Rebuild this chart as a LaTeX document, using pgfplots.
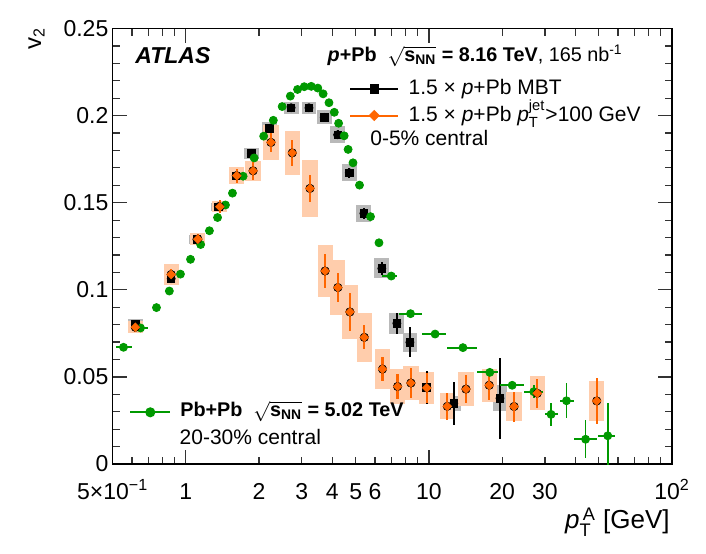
\documentclass[border=0pt]{standalone}
\usepackage{fontspec}
\setmainfont{Liberation Sans}
\usepackage{amsmath}
\usepackage{pgfplots}
\usepackage{pgfplotstable}
\pgfplotsset{compat=1.18}
\definecolor{rootorange}{RGB}{255,102,0}
\definecolor{rootgreen}{RGB}{0,153,0}
\definecolor{boxgray}{RGB}{185,185,185}
\definecolor{boxorange}{RGB}{255,205,172}

\pgfplotstableread{
x y sy sys
0.62 0.0801 0.0010 0.0030
0.87 0.1064 0.0010 0.0035
1.11 0.1290 0.0010 0.0026
1.36 0.1477 0.0010 0.0023
1.61 0.1655 0.0010 0.0028
1.86 0.1783 0.0010 0.0031
2.21 0.1927 0.0010 0.0034
2.71 0.2045 0.0012 0.0034
3.21 0.2045 0.0015 0.0034
3.71 0.1990 0.0020 0.0040
4.21 0.1890 0.0025 0.0048
4.70 0.1672 0.0030 0.0048
5.40 0.1439 0.0030 0.0048
6.40 0.1123 0.0038 0.0057
7.38 0.0808 0.0060 0.0060
8.35 0.0699 0.0086 0.0055
9.78 0.0440 0.0096 0.0023
12.65 0.0348 0.0125 0.0043
19.6 0.0377 0.0233 0.0074
}\mbt

\pgfplotstableread{
x y sy sys
0.62 0.0785 0.0030 0.0035
0.87 0.1088 0.0033 0.0060
1.12 0.1291 0.0030 0.0034
1.38 0.1477 0.0038 0.0030
1.62 0.1655 0.0041 0.0048
1.89 0.1683 0.0053 0.0057
2.24 0.1846 0.0057 0.0099
2.74 0.1786 0.0075 0.0125
3.24 0.1582 0.0077 0.0163
3.74 0.1108 0.0096 0.0148
4.22 0.1013 0.0081 0.0158
4.73 0.0873 0.0107 0.0155
5.42 0.0727 0.0069 0.0141
6.44 0.0545 0.0071 0.0113
7.43 0.0445 0.0074 0.0098
8.43 0.0465 0.0086 0.0096
9.80 0.0437 0.0088 0.0093
11.9 0.0331 0.0078 0.0075
14.2 0.0430 0.0081 0.0098
17.7 0.0452 0.0086 0.0096
22.4 0.0330 0.0086 0.0081
27.9 0.0406 0.0083 0.0098
49.0 0.0362 0.0134 0.0113
}\jet

\pgfplotstableread{
x y exm exp ey
0.554 0.0670 0.040 0.045 0.0008
0.651 0.0781 0.040 0.045 0.0008
0.757 0.0898 0 0 0.0008
0.855 0.0993 0 0 0.0008
0.950 0.1090 0 0 0.0008
1.045 0.1175 0 0 0.0008
1.150 0.1260 0 0 0.0008
1.250 0.1339 0 0 0.0008
1.350 0.1415 0 0 0.0008
1.455 0.1487 0 0 0.0008
1.555 0.1555 0 0 0.0008
1.720 0.1652 0 0 0.0008
1.910 0.1757 0 0 0.0008
2.090 0.1882 0 0 0.0008
2.290 0.1973 0 0 0.0008
2.490 0.2052 0 0 0.0008
2.690 0.2112 0 0 0.0008
2.880 0.2150 0 0 0.0008
3.070 0.2166 0 0 0.0008
3.280 0.2168 0 0 0.0008
3.490 0.2158 0 0 0.0008
3.670 0.2125 0 0 0.0008
3.880 0.2074 0 0 0.0008
4.080 0.2019 0 0 0.0008
4.250 0.1956 0 0 0.0008
4.480 0.1884 0 0 0.0008
4.650 0.1806 0 0 0.0008
4.870 0.1729 0 0 0.0008
5.180 0.1601 0 0 0.0008
5.750 0.1420 0 0 0.0008
6.230 0.1270 0 0 0.0008
7.00 0.1079 0.6 0.4 0.0010
8.40 0.0863 0.9 1.0 0.0012
10.6 0.0746 1.2 1.2 0.0012
13.8 0.0668 1.9 1.9 0.0015
17.8 0.0526 2.0 1.5 0.0018
22.0 0.0452 2.4 2.6 0.0020
27.0 0.0415 2.4 2.4 0.0036
31.8 0.0285 1.8 2.2 0.0067
36.8 0.0363 2.3 2.7 0.0100
44.1 0.0142 4.4 5.0 0.0108
54.4 0.0162 4.8 4.1 0.0186
}\pbpb

\begin{document}
\begin{tikzpicture}
\useasboundingbox (-56.35pt,-44.5pt) rectangle (296.65pt,232pt);
\begin{axis}[
  at={(0pt,0pt)}, anchor=south west,
  scale only axis, width=279.65pt, height=217.75pt,
  xmode=log, xmin=0.5, xmax=100, ymin=0, ymax=0.25,
  axis line style={line width=0.6pt},
  tick style={line width=0.6pt, black!80},
  major tick length=7pt, minor tick length=3.5pt,
  xtick={1,10,100}, xticklabels={1,10,10\textsuperscript{2}},
  minor xtick={0.6,0.7,0.8,0.9,2,3,4,5,6,7,8,9,20,30,40,50,60,70,80,90},
  extra x ticks={0.5,2,3,4,5,6,20,30},
  extra x tick labels={5×10\textsuperscript{−1},2,3,4,5,6,20,30},
  extra x tick style={tick style={draw=none}},
  ytick={0,0.05,0.1,0.15,0.2,0.25},
  yticklabels={0,0.05,0.1,0.15,0.2,0.25},
  minor y tick num=4,
  ticklabel style={font=\fontsize{11.5}{13}\selectfont},
  xticklabel style={anchor=base, yshift=-17.5pt},
  yticklabel style={anchor=east, inner sep=0pt, xshift=-2pt},
  xlabel={\textit{p}$_{\text{T}}^{\,\text{A}}$ [GeV]},
  xlabel style={font=\fontsize{13}{15}\selectfont, at={(axis description cs:0.9964,-0.149)}, anchor=base east, inner sep=0pt},
  ylabel={v\textsubscript{2}},
  ylabel style={font=\fontsize{12}{14}\selectfont, at={(axis description cs:-0.128,1.003)}, anchor=base east, inner sep=0pt},
  legend image code/.code={\draw[mark repeat=2,mark phase=2,#1] plot coordinates {(0pt,0pt) (12pt,0pt) (24pt,0pt)};},
  legend style={draw=none, fill=none, inner sep=0pt, outer sep=0pt,
    at={(axis description cs:0.4230,0.8309)}, anchor=west, row sep=0pt,
    font=\fontsize{10.5}{12}\selectfont,
    nodes={inner sep=0pt, text height=9.525pt, text depth=3.825pt},
    /tikz/every odd column/.append style={column sep=4.7pt},
    cells={anchor=west}},
  legend cell align=left,
]
% grey systematic boxes (MBT)
\addplot[forget plot, only marks, mark=none,
  error bars/.cd, y dir=both, y explicit, error mark=none,
  error bar style={line width=7.4pt, boxgray}]
  table[x=x, y=y, y error=sys]{\mbt};
% orange systematic boxes (jet)
\addplot[forget plot, only marks, mark=none,
  error bars/.cd, y dir=both, y explicit, error mark=none,
  error bar style={line width=7.6pt, boxorange}]
  table[x=x, y=y, y error=sys]{\jet};
% MBT points
\addplot[forget plot, only marks, mark=square*, mark size=1.85pt, black,
  error bars/.cd, y dir=both, y explicit, error mark=none,
  error bar style={line width=1pt, black}]
  table[x=x, y=y, y error=sy]{\mbt};
% Pb+Pb points
\addplot[forget plot, only marks, mark=*, mark size=2pt, rootgreen,
  mark options={draw=none, fill=rootgreen},
  error bars/.cd, x dir=both, x explicit, y dir=both, y explicit, error mark=none,
  error bar style={line width=0.9pt, rootgreen}]
  table[x=x, y=y, x error plus=exp, x error minus=exm, y error=ey]{\pbpb};
% jet stat errors
\addplot[forget plot, only marks, mark=none,
  error bars/.cd, y dir=both, y explicit, error mark=none,
  error bar style={line width=1.1pt, rootorange}]
  table[x=x, y=y, y error=sy]{\jet};
% jet points
\addplot[forget plot, only marks, mark=square*, mark size=1.5pt, rootorange,
  mark options={rotate=45, draw=none, fill=rootorange}]
  table[x=x, y=y]{\jet};

\addlegendimage{black, line width=1pt, mark=square*, mark size=1.85pt}
\addlegendentry{1.5 × \textit{p}+Pb MBT}
\addlegendimage{rootorange, line width=1pt, mark=square*, mark size=1.5pt, mark options={rotate=45, draw=none, fill=rootorange}}
\addlegendentry{1.5 × \textit{p}+Pb \textit{p}$_{\text{T}}^{\text{jet}}$>100 GeV}

\node[anchor=base west, inner sep=0pt, font=\fontsize{11.5}{13}\selectfont] at (axis description cs:0.0399,0.920) {\textbf{\textit{ATLAS}}};
\node[anchor=base west, inner sep=0pt, font=\fontsize{9.9}{12}\selectfont] at (axis description cs:0.3837,0.9247)
  {\textbf{\textit{p}+Pb}~~$\sqrt{\text{\textbf{s}}_{\text{\textbf{NN}}}}$\textbf{ = 8.16 TeV}, 165 nb\textsuperscript{-1}};
\node[anchor=base west, inner sep=0pt, font=\fontsize{10.5}{12}\selectfont] at (axis description cs:0.460,0.7318) {0-5\% central};
\node[anchor=base west, inner sep=0pt, font=\fontsize{10.5}{12}\selectfont] at (axis description cs:0.1191,0.0459) {20-30\% central};
\end{axis}
\begin{axis}[
  at={(0pt,0pt)}, anchor=south west,
  scale only axis, width=279.65pt, height=217.75pt,
  hide axis, xmin=0, xmax=1, ymin=0, ymax=1,
  legend image code/.code={\draw[mark repeat=2,mark phase=2,#1] plot coordinates {(0pt,0pt) (10pt,0pt) (20pt,0pt)};},
  legend style={draw=none, fill=none, inner sep=0pt, outer sep=0pt,
    at={(axis description cs:0.0297,0.1187)}, anchor=west,
    font=\fontsize{9.9}{12}\selectfont,
    nodes={inner sep=0pt, text height=8.7pt, text depth=4.3pt},
    /tikz/every odd column/.append style={column sep=4.5pt},
    cells={anchor=west}},
  legend cell align=left,
]
\addlegendimage{rootgreen, line width=1pt, mark=*, mark size=2pt, mark options={draw=none, fill=rootgreen}}
\addlegendentry{\textbf{Pb+Pb}~~$\sqrt{\text{\textbf{s}}_{\text{\textbf{NN}}}}$\textbf{ = 5.02 TeV}}
\end{axis}
\end{tikzpicture}
\end{document}
